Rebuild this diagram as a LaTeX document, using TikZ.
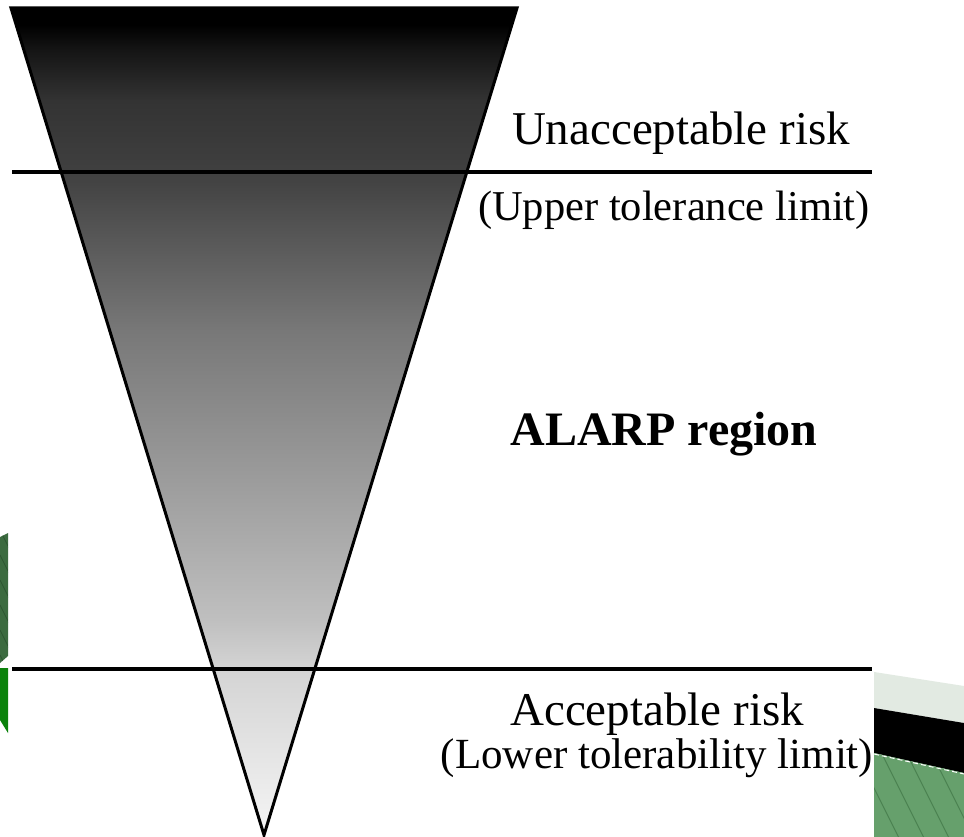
\documentclass[tikz,border=0pt]{standalone}
\usepackage{fontspec}
\setmainfont{Liberation Serif}

% Grey fade of the funnel: dark at the wide end, pale at the tip
\pgfdeclareverticalshading{riskfade}{100bp}{%
  color(0bp)=(black!4); color(25bp)=(black!4);
  color(32bp)=(black!13); color(35.1bp)=(black!17);
  color(38bp)=(black!25); color(45.9bp)=(black!38);
  color(55.5bp)=(black!53); color(65.1bp)=(black!75);
  color(69.4bp)=(black!80); color(72.5bp)=(black!92);
  color(74bp)=(black); color(100bp)=(black)}

\definecolor{leafdark}{HTML}{3C6B40}
\definecolor{leafhatch}{HTML}{2E5632}
\definecolor{leafbright}{HTML}{0B820B}
\definecolor{bandpale}{HTML}{E2EAE2}
\definecolor{grassgreen}{HTML}{66A06C}
\definecolor{grasshatch}{HTML}{4B8251}

\tikzset{
  limitline/.style={line width=3.5pt, black},
  funnel/.style={draw=black, line width=3pt, line join=miter, shading=riskfade},
  label/.style={anchor=base, inner sep=0pt, outer sep=0pt}
}

\begin{document}
\begin{tikzpicture}[x=1pt, y=-1pt]
  \useasboundingbox (0,0) rectangle (964,837);
  \fill[white] (0,0) rectangle (964,837);

  % corner fragments at the page edges
  \fill[leafdark] (0,537) -- (8,533) -- (8,656) -- (0,663) -- cycle;
  \begin{scope}
    \clip (0,537) -- (8,533) -- (8,656) -- (0,663) -- cycle;
    \foreach \k in {480,505,...,680}
      \draw[leafhatch, line width=0.8pt] (0,\k) -- (20,\k+40);
  \end{scope}
  \fill[leafbright] (0,668) -- (8,668) -- (8,733) -- (0,720) -- cycle;

  \fill[bandpale] (874,672) -- (964,686) -- (964,723) -- (874,708) -- cycle;
  \fill[black] (874,708) -- (964,723) -- (964,773) -- (874,753) -- cycle;
  \fill[grassgreen] (874,753) -- (964,773) -- (964,837) -- (874,837) -- cycle;
  \begin{scope}
    \clip (874,753) -- (964,773) -- (964,837) -- (874,837) -- cycle;
    \foreach \k in {800,825,...,975}
      \draw[grasshatch, line width=1pt] (\k,740) -- (\k+50,840);
  \end{scope}
  \draw[white, line width=1pt, dash pattern=on 5pt off 3pt] (874,754) -- (964,774);

  % funnel
  \coordinate (topL) at (11,8);
  \coordinate (topR) at (517,8);
  \coordinate (tip) at (264,835);
  \path[funnel] (topL) -- (topR) -- (tip) -- cycle;

  % tolerance limits
  \coordinate (upA) at (12,172);
  \coordinate (upB) at (872,172);
  \coordinate (loA) at (12,669);
  \coordinate (loB) at (872,669);
  \draw[limitline] (upA) -- (upB);
  \draw[limitline] (loA) -- (loB);

  % labels
  \node[label, font=\fontsize{47}{50}\selectfont] (unacc) at (681,145) {Unacceptable risk};
  \node[label, font=\fontsize{42.5}{46}\selectfont] (upper) at (674,221) {(Upper tolerance limit)};
  \node[label, font=\bfseries\fontsize{48}{52}\selectfont] (alarp) at (664,445) {ALARP region};
  \node[label, font=\fontsize{47}{50}\selectfont] (acc) at (657,725) {Acceptable risk};
  \node[label, font=\fontsize{43}{46}\selectfont] (lower) at (657,768) {(Lower tolerability limit)};
\end{tikzpicture}
\end{document}
